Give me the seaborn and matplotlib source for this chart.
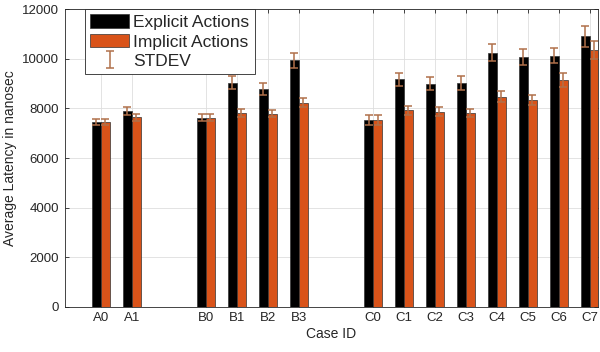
import matplotlib
matplotlib.use("Agg")
import matplotlib.pyplot as plt
import numpy as np
import pandas as pd
import seaborn as sns

# case ids and their x positions (groups A, B, C separated by a gap)
cases = ["A0", "A1", "B0", "B1", "B2", "B3",
         "C0", "C1", "C2", "C3", "C4", "C5", "C6", "C7"]
xpos = [0, 1, 3.4, 4.4, 5.4, 6.4,
        8.8, 9.8, 10.8, 11.8, 12.8, 13.8, 14.8, 15.8]

explicit_mean = [7450, 7900, 7620, 9040, 8770, 9940,
                 7530, 9170, 9000, 9020, 10250, 10075, 10130, 10910]
explicit_std = [135, 170, 140, 255, 240, 300,
                190, 260, 275, 270, 345, 310, 315, 420]
implicit_mean = [7450, 7640, 7620, 7825, 7785, 8230,
                 7530, 7920, 7865, 7825, 8470, 8335, 9145, 10355]
implicit_std = [135, 130, 140, 160, 150, 175,
                190, 175, 180, 170, 215, 215, 280, 370]

series = ["Explicit Actions", "Implicit Actions"]
colors = ["#000000", "#D95319"]
err_color = "#b0704a"

df = pd.DataFrame({
    "pos": xpos * 2,
    "latency": explicit_mean + implicit_mean,
    "std": explicit_std + implicit_std,
    "type": [series[0]] * len(cases) + [series[1]] * len(cases),
})

sns.set_theme(style="ticks")
plt.rcParams["font.family"] = ["Liberation Sans", "DejaVu Sans"]

fig = plt.figure(figsize=(6, 3.52), dpi=100)
ax = fig.add_axes([0.108, 0.128, 0.889, 0.846])

sns.barplot(data=df, x="pos", y="latency", hue="type", native_scale=True,
            palette=colors, saturation=1, width=0.58, errorbar=None,
            edgecolor="#333333", linewidth=0.5, ax=ax, zorder=2)

# stdev error bars at the bar centres seaborn produced
err_handle = None
for cont, s in zip(ax.containers, series):
    sub = df[df["type"] == s]
    cx = [p.get_x() + p.get_width() / 2 for p in cont.patches]
    h = [p.get_height() for p in cont.patches]
    eb = ax.errorbar(cx, h, yerr=sub["std"].values, fmt="none",
                     ecolor=err_color, elinewidth=1.1, capsize=3,
                     capthick=1.1, zorder=3, label="STDEV")
    err_handle = eb

ax.set_xlim(-1.165, 16.08)
ax.set_ylim(0, 12000)
ax.set_xticks(xpos)
ax.set_xticklabels(cases)
ax.set_yticks(np.arange(0, 12001, 2000))
ax.tick_params(direction="in", length=3, width=0.6, labelsize=9.5,
               top=True, right=True, colors="#262626", pad=4)
ax.grid(True, color="#dedede", linewidth=0.6, zorder=0)
ax.set_axisbelow(True)
for sp in ax.spines.values():
    sp.set_visible(True)
    sp.set_color("#262626")
    sp.set_linewidth(0.6)

ax.set_xlabel("Case ID", fontsize=10, color="#262626", labelpad=2)
ax.set_ylabel("Average Latency in nanosec", fontsize=10, color="#262626",
              labelpad=4)

handles, labels = ax.get_legend_handles_labels()
bar_h = [hh for hh, ll in zip(handles, labels) if ll in series]
bar_l = [ll for ll in labels if ll in series]
if ax.get_legend() is not None:
    ax.get_legend().remove()
leg = ax.legend(bar_h[:2] + [err_handle], bar_l[:2] + ["STDEV"],
                loc="upper left", bbox_to_anchor=(0.0375, 1.0),
                borderaxespad=0, fontsize=12.5, handlelength=2.25,
                handleheight=0.8, handletextpad=0.25, labelspacing=0.22,
                borderpad=0.3, fancybox=False, framealpha=1)
leg.get_frame().set_edgecolor("#262626")
leg.get_frame().set_linewidth(0.6)

fig.savefig("out.png", dpi=100)
